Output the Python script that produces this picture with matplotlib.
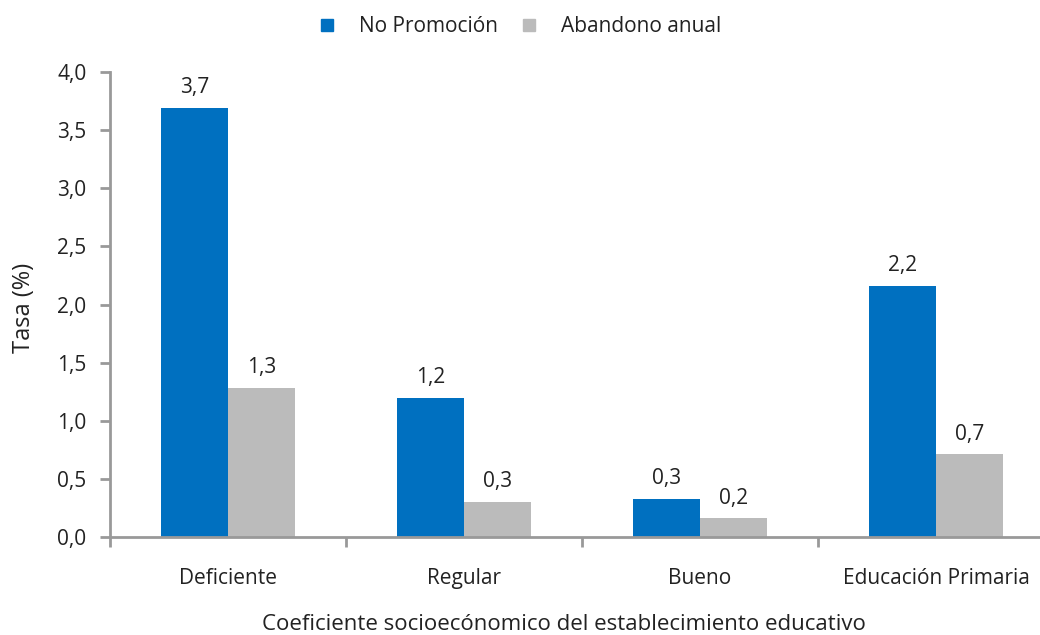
import matplotlib.pyplot as plt
import numpy as np
from matplotlib.lines import Line2D

# data
categories = ['Deficiente', 'Regular', 'Bueno', 'Educación Primaria']
no_promocion = [3.69, 1.20, 0.33, 2.16]
abandono = [1.28, 0.30, 0.16, 0.71]
series_names = ['No Promoción', 'Abandono anual']

plt.rcParams['font.family'] = ['Open Sans', 'DejaVu Sans']

W, H = 1040, 635
fig = plt.figure(figsize=(W / 100, H / 100), dpi=100)
# axes box in pixel coords (left spine at x=110, y=0 at 537, y=4 at 72)
ax = fig.add_axes([110 / W, (H - 537) / H, 944 / W, (537 - 72) / H])

blue = '#0070C0'
gray = '#BBBBBB'
axis_col = '#999999'
txt_col = '#222222'
fs = 15

x = np.arange(len(categories))
bw = 0.284
b1 = ax.bar(x - bw / 2, no_promocion, bw, color=blue)
b2 = ax.bar(x + bw / 2, abandono, bw, color=gray)

for bars, vals in ((b1, no_promocion), (b2, abandono)):
    for rect, v in zip(bars, vals):
        ax.annotate(f'{v:.1f}'.replace('.', ','),
                    (rect.get_x() + rect.get_width() / 2, v),
                    xytext=(0, 7), textcoords='offset points',
                    ha='center', va='bottom', fontsize=fs, color=txt_col)

ax.set_xlim(-0.5, len(categories) - 0.5)
ax.set_ylim(0, 4.0)
ax.set_yticks(np.arange(0, 4.01, 0.5))
ax.set_yticklabels([f'{t:.1f}'.replace('.', ',') for t in np.arange(0, 4.01, 0.5)])

# category labels centered, tick marks at boundaries
ax.set_xticks(np.arange(-0.5, len(categories) + 0.5, 1.0))
ax.set_xticklabels([])
ax.set_xticks(x, minor=True)
ax.set_xticklabels(categories, minor=True)
ax.tick_params(axis='x', which='minor', length=0, pad=22, labelsize=fs, labelcolor=txt_col)
ax.tick_params(axis='x', which='major', length=7, width=2, color=axis_col, direction='out')
ax.tick_params(axis='y', length=7, width=2, color=axis_col, direction='out', labelsize=fs,
               labelcolor=txt_col, pad=10)

for s in ('top', 'right'):
    ax.spines[s].set_visible(False)
for s in ('left', 'bottom'):
    ax.spines[s].set_color(axis_col)
    ax.spines[s].set_linewidth(2)

fig.text(24 / W, 1 - 308 / H, 'Tasa (%)', rotation=90, ha='center', va='center',
         fontsize=17, color=txt_col)
fig.text(564 / W, 1 - 625 / H, 'Coeficiente socioecónomico del establecimiento educativo',
         ha='center', va='center', fontsize=16, color=txt_col)

handles = [Line2D([], [], marker='s', linestyle='none', markersize=9, color=c)
           for c in (blue, gray)]
fig.legend(handles, series_names, loc='center', bbox_to_anchor=(519 / W, 1 - 27 / H),
           ncol=2, frameon=False, fontsize=fs, handlelength=1.0, handletextpad=1.05,
           columnspacing=0.95, labelcolor=txt_col)

fig.savefig('out.png', dpi=100)
